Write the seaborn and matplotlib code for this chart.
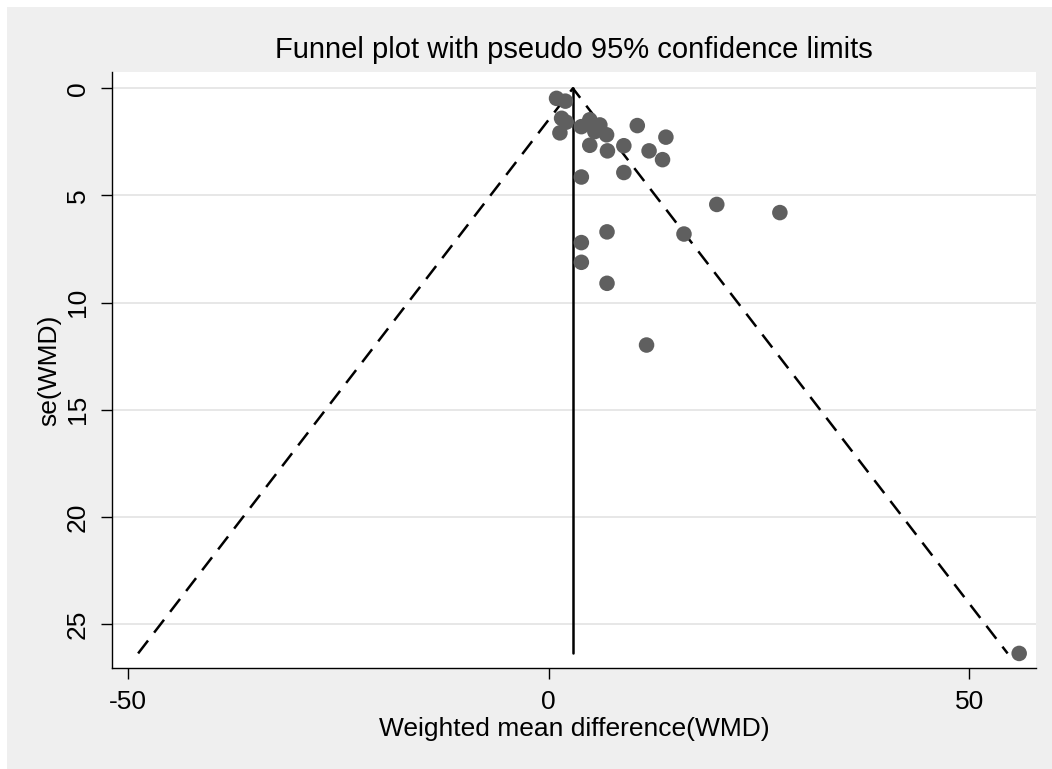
import numpy as np
import pandas as pd
import matplotlib
matplotlib.use("Agg")
import matplotlib.pyplot as plt
import seaborn as sns

# Study-level effect estimates and their standard errors
wmd = [0.95, 2.0, 1.55, 2.1, 1.35, 3.9, 4.9, 6.1, 5.5, 6.9, 4.9, 7.0, 8.95,
       10.55, 11.95, 13.95, 13.55, 8.95, 3.9, 20.0, 27.5, 16.1, 6.95, 3.9,
       3.9, 6.95, 11.65, 55.95]
se_wmd = [0.47, 0.6, 1.4, 1.58, 2.08, 1.79, 1.47, 1.71, 2.02, 2.17, 2.66, 2.92,
          2.68, 1.74, 2.92, 2.28, 3.33, 3.93, 4.14, 5.42, 5.8, 6.8, 6.7, 7.2,
          8.12, 9.1, 11.98, 26.37]

# Fixed-effect pooled estimate marking the funnel apex
pooled = 2.89

x_ticks = [-50, 0, 50]
y_ticks = [0, 5, 10, 15, 20, 25]

df = pd.DataFrame({"wmd": wmd, "se": se_wmd})

sns.set_theme(style="white")
plt.rcParams["font.family"] = ["Liberation Sans", "DejaVu Sans"]
plt.rcParams["axes.unicode_minus"] = False

W, H = 1052, 769
fig = plt.figure(figsize=(W / 100, H / 100), dpi=100, facecolor="#efefef")
# thin white margin along the top and left edges
for rect in [(0, 1 - 7 / H, 1, 7 / H), (0, 0, 7 / W, 1)]:
    fig.add_artist(plt.Rectangle(rect[:2], rect[2], rect[3],
                                 transform=fig.transFigure,
                                 facecolor="white", edgecolor="none",
                                 zorder=-10))

ax = fig.add_axes([112 / W, 1 - 668 / H, (1036 - 112) / W, (668 - 72) / H])
ax.set_zorder(1)
ax.set_facecolor("white")

max_se = max(se_wmd)
z = 1.96
ax.plot([pooled - z * max_se, pooled, pooled + z * max_se],
        [max_se, 0, max_se], color="black", lw=1.8,
        dashes=(6.5, 4), zorder=2)
ax.plot([pooled, pooled], [0, max_se], color="black", lw=1.8, zorder=2)

sns.scatterplot(data=df, x="wmd", y="se", ax=ax, color="#5f5f5f",
                s=125, edgecolor="none", zorder=3, legend=False)

ax.set_xlim(-51.9, 57.95)
ax.set_ylim(27.05, -0.76)
ax.set_xticks(x_ticks)
ax.set_xticklabels([str(v) for v in x_ticks])
ax.set_yticks(y_ticks)
ax.set_yticklabels([str(v) for v in y_ticks], rotation=90, va="center")

ax.grid(axis="y", color="#e5e5e5", lw=1.3)
ax.grid(axis="x", visible=False)
ax.set_axisbelow(True)

for side in ("top", "right"):
    ax.spines[side].set_visible(False)
for side in ("left", "bottom"):
    ax.spines[side].set_color("black")
    ax.spines[side].set_linewidth(1.0)

ax.tick_params(axis="both", which="major", direction="out", length=8,
               width=1.0, color="black", labelsize=19, labelcolor="black",
               left=True, bottom=True)
ax.tick_params(axis="x", pad=8)
ax.tick_params(axis="y", pad=8)

ax.set_xlabel("Weighted mean difference(WMD)", fontsize=19, color="black",
              labelpad=2)
ax.set_ylabel("se(WMD)", fontsize=19, color="black", labelpad=3)
ax.set_title("Funnel plot with pseudo 95% confidence limits", fontsize=21,
             color="black", pad=10)

fig.savefig("out.png", dpi=100, facecolor=fig.get_facecolor())
